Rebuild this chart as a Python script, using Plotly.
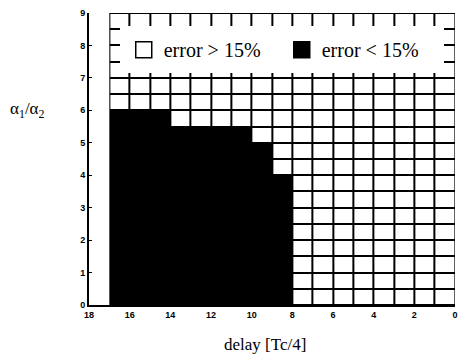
import plotly.graph_objects as go

# ---- data ----
delay_edges = [17, 16, 15, 14, 13, 12, 11, 10, 9, 8, 7, 6, 5, 4, 3, 2, 1, 0]
ratio_edges = [0, 0.5, 1, 1.5, 2, 2.5, 3, 3.5, 4, 4.5, 5, 5.5, 6, 6.5, 7, 7.5, 8, 8.5, 9]
# upper limit of the "error < 15%" region in each delay cell (17-16, 16-15, ..., 1-0)
ratio_limit = [6, 6, 6, 5.5, 5.5, 5.5, 5.5, 5, 4, 0, 0, 0, 0, 0, 0, 0, 0]
x_ticks = [18, 16, 14, 12, 10, 8, 6, 4, 2, 0]
y_ticks = [0, 1, 2, 3, 4, 5, 6, 7, 8, 9]
legend_labels = ["error > 15%", "error < 15%"]

ncol = len(delay_edges) - 1
nrow = len(ratio_edges) - 1
z = [[1 if (ratio_edges[i] + ratio_edges[i + 1]) / 2 < ratio_limit[j] else 0
      for j in range(ncol)] for i in range(nrow)]

fig = go.Figure()
# black underlay that shows through the cell gaps as grid lines
fig.add_trace(go.Heatmap(
    z=[[1]], x=[delay_edges[0], delay_edges[-1]], y=[ratio_edges[0], ratio_edges[-1]],
    colorscale=[[0, "black"], [1, "black"]], showscale=False, hoverinfo="skip"))
fig.add_trace(go.Heatmap(
    z=z, x=delay_edges, y=ratio_edges, zmin=0, zmax=1,
    colorscale=[[0, "white"], [1, "black"]], showscale=False,
    xgap=2, ygap=2, hoverinfo="skip"))

# legend entries
fig.add_trace(go.Scatter(x=[None], y=[None], mode="markers", name=legend_labels[0],
                         marker=dict(symbol="square", size=16, color="white",
                                     line=dict(color="black", width=1.5))))
fig.add_trace(go.Scatter(x=[None], y=[None], mode="markers", name=legend_labels[1],
                         marker=dict(symbol="square", size=16, color="black",
                                     line=dict(color="black", width=1.5))))

tickfont = dict(family="Liberation Sans", size=9, color="black", weight="bold")
fig.update_layout(
    width=459, height=357,
    margin=dict(l=89, r=1, t=13, b=52),
    paper_bgcolor="white", plot_bgcolor="white",
    showlegend=True,
    legend=dict(orientation="h", x=0.084, xanchor="left", y=0.955, yanchor="top",
                bgcolor="white", bordercolor="white", borderwidth=4,
                itemsizing="trace",
                entrywidth=113, entrywidthmode="pixels",
                font=dict(family="Liberation Serif", size=20, color="black")),
    xaxis=dict(range=[18, 0], tickvals=x_ticks, ticks="inside", ticklen=3,
               tickcolor="black", showline=True, linecolor="black", linewidth=2,
               showgrid=False, zeroline=False, tickfont=tickfont,
               ticklabeloverflow="allow"),
    yaxis=dict(range=[0, 9], tickvals=y_ticks, ticks="inside", ticklen=3,
               tickcolor="black", showline=True, linecolor="black", linewidth=2,
               showgrid=False, zeroline=False, tickfont=tickfont),
    annotations=[
        dict(text="delay [Tc/4]", xref="paper", yref="paper", x=0.482, y=-0.134,
             showarrow=False, xanchor="center", yanchor="middle",
             font=dict(family="Liberation Serif", size=17, color="black")),
        dict(text="α<sub>1</sub>/α<sub>2</sub>", xref="paper", yref="paper",
             x=-0.167, y=0.668, showarrow=False, xanchor="center", yanchor="middle",
             font=dict(family="Liberation Serif", size=17, color="black")),
    ],
)

fig.write_html("out.html")
